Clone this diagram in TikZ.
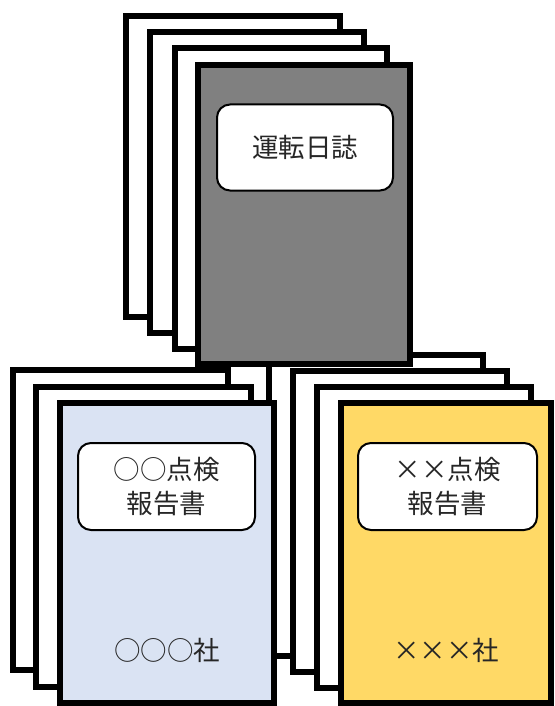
\documentclass[tikz,border=0pt]{standalone}
\usepackage{fontspec}
\newfontfamily\jp{Noto Sans CJK JP}
\definecolor{diarygray}{HTML}{808080}
\definecolor{repblue}{HTML}{DAE3F3}
\definecolor{repyellow}{HTML}{FFD966}
\tikzset{
  sheet/.style={draw=black, line width=6pt, fill=white},
  label box/.style={draw=black, line width=2pt, fill=white, rounded corners=13pt,
    minimum width=176pt, minimum height=86pt, inner sep=0pt},
  jptext/.style={font=\jp\fontsize{26.5}{34}\selectfont, text=black!85, align=center}
}
\begin{document}
\begin{tikzpicture}[x=1pt,y=-1pt]
\useasboundingbox (0,0) rectangle (554,706);
% right stack
\draw[sheet] (269,355) rectangle (483,656);
\draw[sheet] (293,371) rectangle (507,672);
\draw[sheet] (317,387) rectangle (531,688);
\draw[sheet, fill=repyellow] (341,403) rectangle (551,703);
% left stack
\draw[sheet] (13,370) rectangle (228,670);
\draw[sheet] (36,387) rectangle (251,687);
\draw[sheet, fill=repblue] (60,403) rectangle (274,703);
% top stack
\draw[sheet] (126,16) rectangle (340,317);
\draw[sheet] (150,32) rectangle (364,333);
\draw[sheet] (175,48) rectangle (387,349);
\draw[sheet, fill=diarygray] (198,65) rectangle (410,364);
% labels
\node[label box, jptext] (diary) at (305,147.5) {運転日誌};
\node[label box, jptext, minimum width=177pt, minimum height=87pt] (repA) at (166.5,486.5) {○○点検\\報告書};
\node[label box, jptext, minimum width=179pt, minimum height=87pt] (repB) at (447.5,486.5) {××点検\\報告書};
\node[jptext] (coA) at (167,650) {○○○社};
\node[jptext] (coB) at (446,650) {×××社};
\end{tikzpicture}
\end{document}
